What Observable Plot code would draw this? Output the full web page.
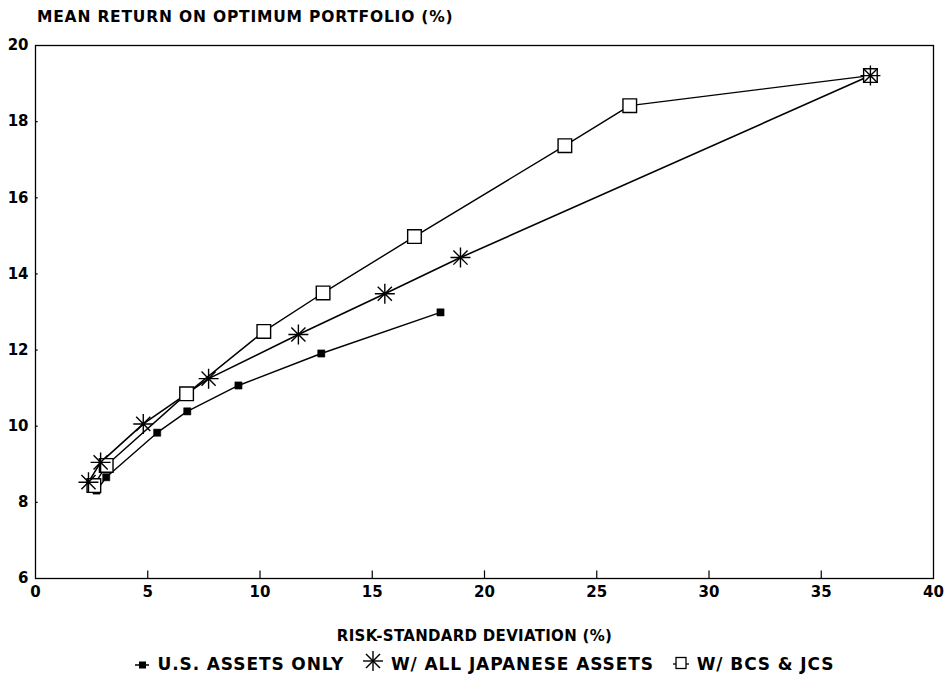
<!DOCTYPE html>
<html>
<head>
<meta charset="utf-8">
<script src="https://cdn.jsdelivr.net/npm/d3@7"></script>
<script src="https://cdn.jsdelivr.net/npm/@observablehq/plot@0.6"></script>
<style>
  body { margin: 0; background: #fff; font-family: "DejaVu Sans", sans-serif; color: #000; }
  #wrap { width: 947px; height: 689px; }
  #title { height: 30px; padding-left: 37px; box-sizing: border-box; padding-top: 9px; font-size: 15.5px; line-height: 16px; font-weight: bold; letter-spacing: 0.8px; white-space: nowrap; }
  #chart { height: 620px; }
  #chart svg { display: block; }
  #legend { width: 947px; padding-top: 0px; padding-left: 20px; box-sizing: border-box; text-align: center; font-size: 17px; line-height: 22px; font-weight: bold; letter-spacing: 0.9px; white-space: nowrap; }
  #legend svg { vertical-align: -3px; }
  #legend span.item { margin: 0 9px; }
</style>
</head>
<body>
<div id="wrap">
  <div id="title">MEAN RETURN ON OPTIMUM PORTFOLIO (%)</div>
  <div id="chart"></div>
  <div id="legend"></div>
</div>
<script>
// Series: U.S. assets only
const usX = [2.72, 3.15, 5.42, 6.76, 9.04, 12.73, 18.04];
const usY = [8.31, 8.66, 9.83, 10.39, 11.07, 11.91, 12.99];
// Series: with all Japanese assets
const jpX = [2.36, 2.90, 4.80, 7.71, 11.71, 15.56, 18.93, 37.19];
const jpY = [8.53, 9.05, 10.06, 11.25, 12.41, 13.48, 14.43, 19.21];
// Series: with BCS & JCS
const bcX = [2.60, 3.15, 6.73, 10.17, 12.81, 16.88, 23.58, 26.47, 37.19];
const bcY = [8.44, 8.97, 10.85, 12.49, 13.50, 14.98, 17.37, 18.42, 19.21];

const seriesNames = ["U.S. ASSETS ONLY", "W/ ALL JAPANESE ASSETS", "W/ BCS & JCS"];
const xTicks = [0, 5, 10, 15, 20, 25, 30, 35, 40];
const yTicks = [6, 8, 10, 12, 14, 16, 18, 20];
const xLabel = "RISK-STANDARD DEVIATION (%)";

const us = usX.map((x, i) => ({x, y: usY[i]}));
const jp = jpX.map((x, i) => ({x, y: jpY[i]}));
const bc = bcX.map((x, i) => ({x, y: bcY[i]}));

// 8-armed asterisk symbol
const asterisk8 = {
  draw(ctx, size) {
    const r = Math.sqrt(size / Math.PI);
    for (let k = 0; k < 4; k++) {
      const a = k * Math.PI / 4;
      const c = Math.cos(a) * r, s = Math.sin(a) * r;
      ctx.moveTo(-c, -s);
      ctx.lineTo(c, s);
    }
  }
};
const squareSym = {
  draw(ctx, size) {
    const h = Math.sqrt(size / Math.PI);
    ctx.moveTo(-h, -h); ctx.lineTo(h, -h); ctx.lineTo(h, h); ctx.lineTo(-h, h); ctx.closePath();
  }
};

const font = "DejaVu Sans, sans-serif";
const chart = Plot.plot({
  width: 947,
  height: 620,
  marginTop: 15,
  marginBottom: 72,
  marginLeft: 35,
  marginRight: 14,
  style: {fontFamily: font, fontSize: "15px", fontWeight: "bold", background: "white", color: "black"},
  x: {domain: [0, 40], ticks: xTicks, tickSize: 0, tickPadding: 8, label: null},
  y: {domain: [6, 20], ticks: yTicks, tickSize: 0, tickPadding: 7, label: null},
  marks: [
    Plot.frame({stroke: "black", strokeWidth: 1.3}),
    Plot.ruleX(xTicks.slice(1, -1), {y1: 6, y2: 6.2, stroke: "black", strokeWidth: 1.2}),
    Plot.ruleY(yTicks.slice(1, -1), {x1: 0, x2: 0.12, stroke: "black", strokeWidth: 1.2}),
    Plot.line(us, {x: "x", y: "y", stroke: "black", strokeWidth: 1.4}),
    Plot.line(jp, {x: "x", y: "y", stroke: "black", strokeWidth: 1.6}),
    Plot.line(bc, {x: "x", y: "y", stroke: "black", strokeWidth: 1.4}),
    Plot.dot(us, {x: "x", y: "y", symbol: squareSym, r: 3.6, fill: "black", stroke: "black", strokeWidth: 0.5}),
    Plot.dot(bc, {x: "x", y: "y", symbol: squareSym, r: 6.8, fill: "white", stroke: "black", strokeWidth: 1.4}),
    Plot.dot(jp, {x: "x", y: "y", symbol: asterisk8, r: 10, fill: "none", stroke: "black", strokeWidth: 1.4}),
    Plot.text([xLabel], {frameAnchor: "bottom", lineAnchor: "middle", dy: 58, dx: -10, fontSize: 15, fontWeight: "bold", fill: "black"})
  ]
});
document.getElementById("chart").appendChild(chart);
chart.querySelectorAll("text").forEach(t => { if (t.textContent === xLabel) t.style.letterSpacing = "0.3px"; });

// Legend
const icons = [
  `<svg width="18" height="16"><line x1="2" y1="8" x2="16" y2="8" stroke="black" stroke-width="1.5"/><rect x="6" y="4.5" width="7" height="7" fill="black"/></svg>`,
  `<svg width="22" height="22" style="vertical-align:-2px"><g stroke="black" stroke-width="1.4"><line x1="1" y1="11" x2="21" y2="11"/><line x1="11" y1="1" x2="11" y2="21"/><line x1="4" y1="4" x2="18" y2="18"/><line x1="4" y1="18" x2="18" y2="4"/></g></svg>`,
  `<svg width="18" height="18"><line x1="1" y1="9" x2="17" y2="9" stroke="black" stroke-width="1.3"/><rect x="4" y="2.5" width="10" height="11" fill="white" stroke="black" stroke-width="1.3"/></svg>`
];
document.getElementById("legend").innerHTML = seriesNames
  .map((n, i) => `<span class="item">${icons[i]} ${n}</span>`).join("");
</script>
</body>
</html>
